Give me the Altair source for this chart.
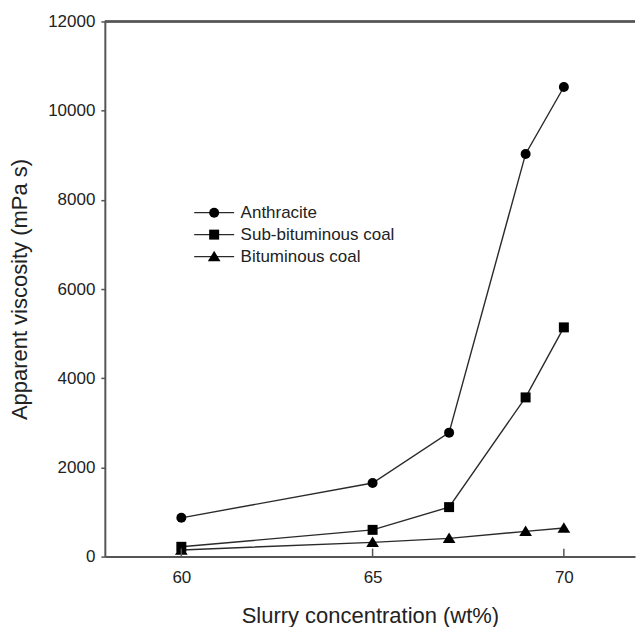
import altair as alt
import pandas as pd

# ---- data ----
concentration = [60, 65, 67, 69, 70]
anthracite = [870, 1650, 2780, 9030, 10530]
sub_bituminous = [220, 600, 1110, 3570, 5140]
bituminous = [150, 320, 410, 567, 642]
series_names = ["Anthracite", "Sub-bituminous coal", "Bituminous coal"]
x_ticks = [60, 65, 70]
y_ticks = [0, 2000, 4000, 6000, 8000, 10000, 12000]

line_names = [n + " " for n in series_names]  # distinct domain so the two legends stay separate

rows = []
for name, lname, vals in zip(series_names, line_names, [anthracite, sub_bituminous, bituminous]):
    for c, v in zip(concentration, vals):
        rows.append({"conc": c, "visc": v, "series": name, "series_line": lname})
df = pd.DataFrame(rows)
ticks_df = pd.DataFrame({"t": x_ticks})

W, H = 531, 536
FONT = "Liberation Sans"
AXIS_COLOR = "#555555"
LEG_X, LEG_Y = 101, 183
MSIZE = 100
TRIANGLE = "M0,-1.15L1.27,0.95L-1.27,0.95Z"

xscale = alt.Scale(domain=[58, 71.86], nice=False, zero=False)
yscale = alt.Scale(domain=[0, 12000], nice=False)

x_enc = alt.X("conc:Q", scale=xscale,
              axis=alt.Axis(title="Slurry concentration (wt%)", values=x_ticks,
                            tickSize=0, labelPadding=13, titlePadding=20))
y_enc = alt.Y("visc:Q", scale=yscale,
              axis=alt.Axis(title="Apparent viscosity (mPa s)", values=y_ticks,
                            format="d", tickSize=4, labelPadding=6, titlePadding=16))

lines = alt.Chart(df).mark_line(strokeWidth=1.4).encode(
    x=x_enc, y=y_enc,
    detail="series:N",
    color=alt.Color("series_line:N",
                    scale=alt.Scale(domain=line_names, range=["#2a2a2a"] * 3),
                    legend=alt.Legend(title=None, orient="none", legendX=LEG_X, legendY=LEG_Y,
                                      symbolType="M-4,0L4,0", symbolSize=MSIZE,
                                      symbolStrokeWidth=1.4, symbolStrokeColor="#2a2a2a",
                                      labelOpacity=0, labelFontSize=17, labelFont=FONT,
                                      labelOffset=18, rowPadding=4, zindex=0)),
)

points = alt.Chart(df).mark_point(filled=True, size=MSIZE, opacity=1, color="black").encode(
    x="conc:Q", y="visc:Q",
    shape=alt.Shape("series:N",
                    scale=alt.Scale(domain=series_names, range=["circle", "square", TRIANGLE]),
                    legend=alt.Legend(title=None, orient="none", legendX=LEG_X, legendY=LEG_Y,
                                      symbolSize=MSIZE, symbolFillColor="black",
                                      symbolStrokeColor="black", symbolStrokeWidth=0,
                                      labelFontSize=17, labelFont=FONT, labelColor="#222222",
                                      labelOffset=18, rowPadding=4, zindex=1)),
)

inward_ticks = alt.Chart(ticks_df).mark_rule(color=AXIS_COLOR, strokeWidth=1.5).encode(
    x=alt.X("t:Q", scale=xscale),
    y=alt.value(H),
    y2=alt.value(H - 8),
)

top_border = alt.Chart(ticks_df).mark_rule(color=AXIS_COLOR, strokeWidth=2).encode(
    x=alt.value(0), x2=alt.value(W), y=alt.value(0)
)

chart = alt.layer(lines, points, inward_ticks, top_border).properties(
    width=W, height=H,
    padding={"left": 8, "top": 12, "right": 0, "bottom": 0},
    background="white",
).configure_view(stroke=None).configure_axis(
    grid=False,
    domainColor=AXIS_COLOR, domainWidth=2,
    tickColor=AXIS_COLOR, tickWidth=1.5,
    labelFont=FONT, labelFontSize=17, labelColor="#222222",
    titleFont=FONT, titleFontSize=22, titleFontWeight="normal", titleColor="#222222",
)

chart.save("out.html", embed_options={"renderer": "svg", "actions": False})
